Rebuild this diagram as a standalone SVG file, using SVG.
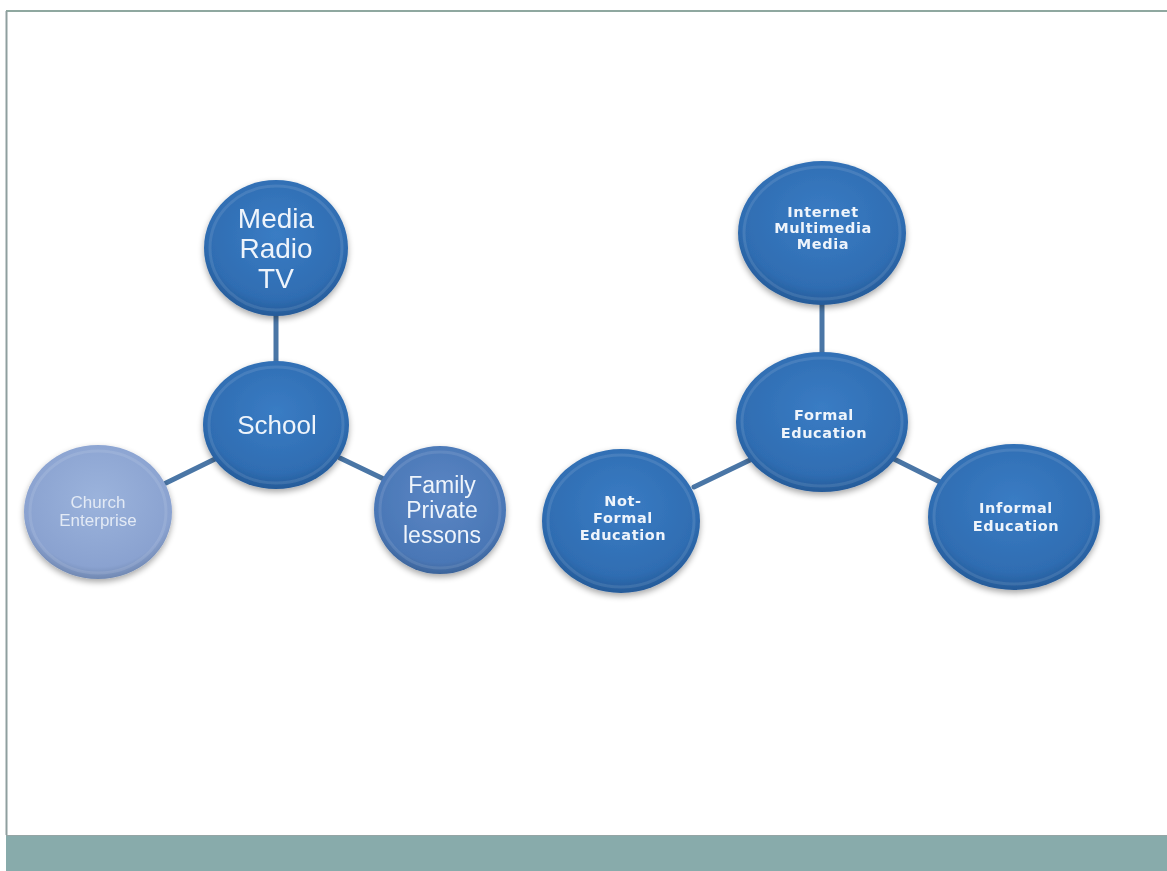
<svg xmlns="http://www.w3.org/2000/svg" width="1167" height="871" viewBox="0 0 1167 871">
<defs>
<radialGradient id="gBlue" cx="50%" cy="40%" r="60%">
<stop offset="0%" stop-color="#3a7cc4"/>
<stop offset="80%" stop-color="#2f6db2"/>
<stop offset="100%" stop-color="#255a98"/>
</radialGradient>
<radialGradient id="gMid" cx="50%" cy="40%" r="60%">
<stop offset="0%" stop-color="#5a86c4"/>
<stop offset="85%" stop-color="#4a77b6"/>
<stop offset="100%" stop-color="#3b6399"/>
</radialGradient>
<radialGradient id="gLight" cx="50%" cy="40%" r="60%">
<stop offset="0%" stop-color="#9bb3dc"/>
<stop offset="85%" stop-color="#8aa2d0"/>
<stop offset="100%" stop-color="#7088b2"/>
</radialGradient>
<filter id="sh" x="-20%" y="-20%" width="140%" height="140%">
<feGaussianBlur in="SourceAlpha" stdDeviation="3"/>
<feOffset dx="0" dy="3" result="b"/>
<feComponentTransfer><feFuncA type="linear" slope="0.35"/></feComponentTransfer>
<feMerge><feMergeNode/><feMergeNode in="SourceGraphic"/></feMerge>
</filter>
</defs>
<style>
.ring{fill:none;stroke:#ffffff;stroke-opacity:0.1;stroke-width:3}
.conn{stroke:#4a76a6;stroke-width:5;fill:none;stroke-linecap:round}
.t{font-family:"Liberation Sans",Arial,sans-serif;fill:#eef4fb;text-anchor:middle}
.tb{font-family:"DejaVu Sans","Liberation Sans",sans-serif;font-weight:bold;fill:#eef4fb;text-anchor:middle;font-size:14.5px;letter-spacing:0.6px}
</style>
<rect x="0" y="0" width="1167" height="871" fill="#ffffff"/>
<line x1="6" y1="11" x2="1167" y2="11" stroke="#8fa8a0" stroke-width="2"/>
<line x1="6.5" y1="11" x2="6.5" y2="835" stroke="#8f9f9f" stroke-width="2"/>
<rect x="6" y="835" width="1161" height="36" fill="#88abab"/>
<line x1="6" y1="835.5" x2="1167" y2="835.5" stroke="#95a5a5" stroke-width="1"/>

<g id="connectors">
<line class="conn" x1="276" y1="310" x2="276" y2="365"/>
<line class="conn" x1="215" y1="459" x2="166" y2="483"/>
<line class="conn" x1="340" y1="458" x2="390" y2="482"/>
<line class="conn" x1="822" y1="300" x2="822" y2="356"/>
<line class="conn" x1="750" y1="460" x2="694" y2="487"/>
<line class="conn" x1="892" y1="458" x2="940" y2="482"/>
</g>

<g id="node-media" filter="url(#sh)">
<ellipse cx="276" cy="248" rx="72" ry="68" fill="url(#gBlue)"/>
<ellipse class="ring" cx="276" cy="248" rx="66" ry="62"/>
<text class="t" x="276" y="228" font-size="28">Media</text>
<text class="t" x="276" y="258" font-size="28">Radio</text>
<text class="t" x="276" y="288" font-size="28">TV</text>
</g>

<g id="node-school" filter="url(#sh)">
<ellipse cx="276" cy="425" rx="73" ry="64" fill="url(#gBlue)"/>
<ellipse class="ring" cx="276" cy="425" rx="67" ry="58"/>
<text class="t" x="277" y="434" font-size="26">School</text>
</g>

<g id="node-church" filter="url(#sh)">
<ellipse cx="98" cy="512" rx="74" ry="67" fill="url(#gLight)"/>
<ellipse class="ring" cx="98" cy="512" rx="68" ry="61"/>
<text class="t" x="98" y="508" font-size="17" style="fill:#e3eaf5">Church</text>
<text class="t" x="98" y="526" font-size="17" style="fill:#e3eaf5">Enterprise</text>
</g>

<g id="node-family" filter="url(#sh)">
<ellipse cx="440" cy="510" rx="66" ry="64" fill="url(#gMid)"/>
<ellipse class="ring" cx="440" cy="510" rx="60" ry="58"/>
<text class="t" x="442" y="493" font-size="23">Family</text>
<text class="t" x="442" y="518" font-size="23">Private</text>
<text class="t" x="442" y="543" font-size="23">lessons</text>
</g>

<g id="node-internet" filter="url(#sh)">
<ellipse cx="822" cy="233" rx="84" ry="72" fill="url(#gBlue)"/>
<ellipse class="ring" cx="822" cy="233" rx="78" ry="66"/>
<text class="tb" x="823" y="217">Internet</text>
<text class="tb" x="823" y="233">Multimedia</text>
<text class="tb" x="823" y="249">Media</text>
</g>

<g id="node-formal" filter="url(#sh)">
<ellipse cx="822" cy="422" rx="86" ry="70" fill="url(#gBlue)"/>
<ellipse class="ring" cx="822" cy="422" rx="80" ry="64"/>
<text class="tb" x="824" y="420">Formal</text>
<text class="tb" x="824" y="438">Education</text>
</g>

<g id="node-notformal" filter="url(#sh)">
<ellipse cx="621" cy="521" rx="79" ry="72" fill="url(#gBlue)"/>
<ellipse class="ring" cx="621" cy="521" rx="73" ry="66"/>
<text class="tb" x="623" y="506">Not-</text>
<text class="tb" x="623" y="523">Formal</text>
<text class="tb" x="623" y="540">Education</text>
</g>

<g id="node-informal" filter="url(#sh)">
<ellipse cx="1014" cy="517" rx="86" ry="73" fill="url(#gBlue)"/>
<ellipse class="ring" cx="1014" cy="517" rx="80" ry="67"/>
<text class="tb" x="1016" y="513">Informal</text>
<text class="tb" x="1016" y="531">Education</text>
</g>
</svg>
